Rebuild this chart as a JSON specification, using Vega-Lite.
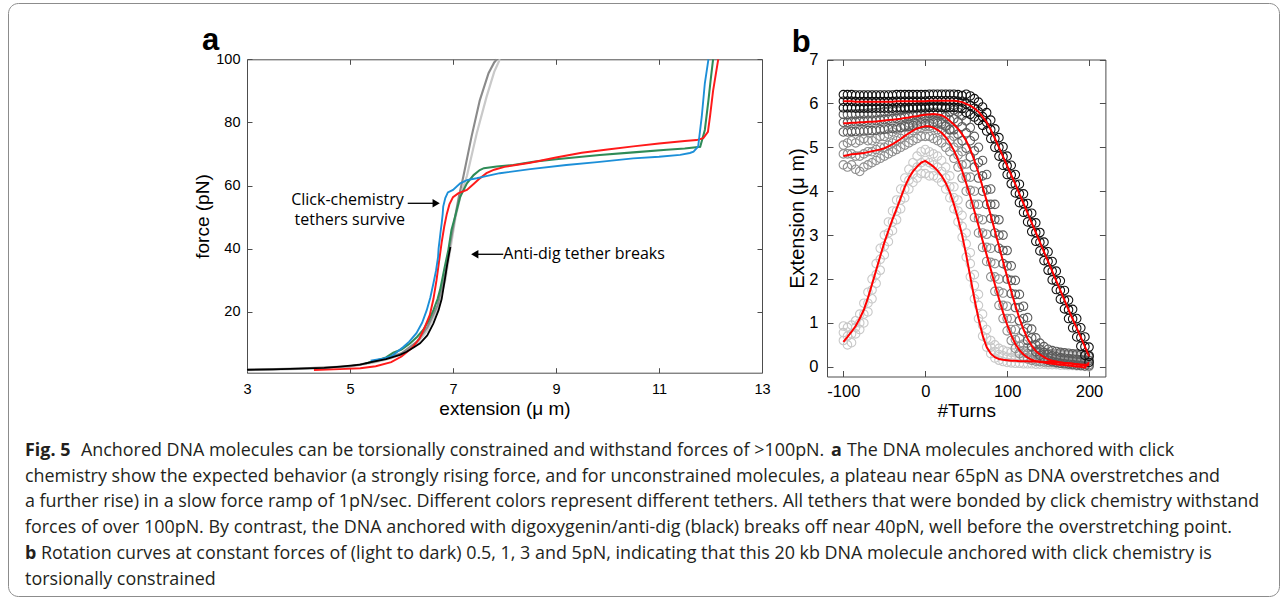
{
  "$schema": "https://vega.github.io/schema/vega-lite/v6.json",
  "width": 1282,
  "height": 599,
  "autosize": {"type": "fit", "contains": "padding"},
  "padding": {"left": 8, "top": 3, "right": 3, "bottom": 3},
  "config": {
    "view": {"stroke": "#8c8c8c", "strokeWidth": 1, "cornerRadius": 10},
    "axis": {"grid": false, "labelFont": "Liberation Sans", "titleFont": "Liberation Sans", "labelColor": "#000", "titleColor": "#000", "titleFontWeight": "normal", "domainColor": "#4d4d4d", "tickColor": "#4d4d4d", "labelFlush": false, "labelOverlap": false}
  },
  "datasets": {
    "tethers": [
      {"tether":"lightgray","ext":3,"force":1.5},{"tether":"lightgray","ext":3.5,"force":1.65},{"tether":"lightgray","ext":4,"force":1.85},{"tether":"lightgray","ext":4.5,"force":2.1},{"tether":"lightgray","ext":5,"force":2.6},{"tether":"lightgray","ext":5.5,"force":4.0},{"tether":"lightgray","ext":5.8,"force":5.3},{"tether":"lightgray","ext":6.0,"force":6.5},{"tether":"lightgray","ext":6.3,"force":10},{"tether":"lightgray","ext":6.5,"force":14},{"tether":"lightgray","ext":6.7,"force":21},{"tether":"lightgray","ext":6.85,"force":30},{"tether":"lightgray","ext":6.95,"force":40},{"tether":"lightgray","ext":7.05,"force":50},{"tether":"lightgray","ext":7.15,"force":57},{"tether":"lightgray","ext":7.27,"force":63},{"tether":"lightgray","ext":7.46,"force":76.5},{"tether":"lightgray","ext":7.65,"force":88},{"tether":"lightgray","ext":7.8,"force":96},{"tether":"lightgray","ext":7.91,"force":100},
      {"tether":"gray","ext":3,"force":1.6},{"tether":"gray","ext":4,"force":2.0},{"tether":"gray","ext":5,"force":2.7},{"tether":"gray","ext":5.5,"force":4.2},{"tether":"gray","ext":6.0,"force":6.8},{"tether":"gray","ext":6.3,"force":10.5},{"tether":"gray","ext":6.5,"force":15},{"tether":"gray","ext":6.7,"force":22},{"tether":"gray","ext":6.85,"force":32},{"tether":"gray","ext":6.95,"force":42},{"tether":"gray","ext":7.04,"force":50},{"tether":"gray","ext":7.12,"force":57},{"tether":"gray","ext":7.2,"force":62.8},{"tether":"gray","ext":7.36,"force":75.5},{"tether":"gray","ext":7.52,"force":87},{"tether":"gray","ext":7.69,"force":95.6},{"tether":"gray","ext":7.8,"force":99},{"tether":"gray","ext":7.85,"force":100},
      {"tether":"green","ext":5.3,"force":3.6},{"tether":"green","ext":5.5,"force":4.5},{"tether":"green","ext":5.7,"force":5.5},{"tether":"green","ext":5.84,"force":7.0},{"tether":"green","ext":6.0,"force":8.0},{"tether":"green","ext":6.17,"force":10},{"tether":"green","ext":6.3,"force":12},{"tether":"green","ext":6.42,"force":14.2},{"tether":"green","ext":6.52,"force":17},{"tether":"green","ext":6.62,"force":20.5},{"tether":"green","ext":6.7,"force":24},{"tether":"green","ext":6.75,"force":27},{"tether":"green","ext":6.8,"force":31},{"tether":"green","ext":6.84,"force":34.3},{"tether":"green","ext":6.91,"force":39.6},{"tether":"green","ext":6.97,"force":45.9},{"tether":"green","ext":7.04,"force":50.1},{"tether":"green","ext":7.14,"force":56.4},{"tether":"green","ext":7.27,"force":60.7},{"tether":"green","ext":7.4,"force":63.3},{"tether":"green","ext":7.52,"force":64.9},{"tether":"green","ext":7.6,"force":65.5},{"tether":"green","ext":7.85,"force":66},{"tether":"green","ext":8.17,"force":66.5},{"tether":"green","ext":8.56,"force":67.5},{"tether":"green","ext":9.0,"force":68.3},{"tether":"green","ext":9.85,"force":69.7},{"tether":"green","ext":10.5,"force":70.5},{"tether":"green","ext":11.15,"force":71.3},{"tether":"green","ext":11.5,"force":71.7},{"tether":"green","ext":11.8,"force":72.3},{"tether":"green","ext":11.89,"force":77.6},{"tether":"green","ext":11.96,"force":87},{"tether":"green","ext":12.0,"force":93},{"tether":"green","ext":12.05,"force":100},
      {"tether":"red","ext":4.3,"force":1.5},{"tether":"red","ext":4.8,"force":1.8},{"tether":"red","ext":5.2,"force":2.1},{"tether":"red","ext":5.5,"force":2.7},{"tether":"red","ext":5.8,"force":4.0},{"tether":"red","ext":6.0,"force":5.8},{"tether":"red","ext":6.2,"force":8.5},{"tether":"red","ext":6.35,"force":11.5},{"tether":"red","ext":6.45,"force":15},{"tether":"red","ext":6.55,"force":19},{"tether":"red","ext":6.62,"force":24},{"tether":"red","ext":6.68,"force":30},{"tether":"red","ext":6.73,"force":36},{"tether":"red","ext":6.78,"force":42},{"tether":"red","ext":6.83,"force":47},{"tether":"red","ext":6.88,"force":51},{"tether":"red","ext":6.93,"force":54},{"tether":"red","ext":7.0,"force":56.3},{"tether":"red","ext":7.1,"force":57.5},{"tether":"red","ext":7.27,"force":58.6},{"tether":"red","ext":7.4,"force":60.5},{"tether":"red","ext":7.5,"force":62},{"tether":"red","ext":7.65,"force":63.9},{"tether":"red","ext":7.8,"force":65},{"tether":"red","ext":8.0,"force":65.9},{"tether":"red","ext":8.5,"force":67.2},{"tether":"red","ext":9.0,"force":68.9},{"tether":"red","ext":9.5,"force":70.4},{"tether":"red","ext":10.0,"force":71.4},{"tether":"red","ext":10.5,"force":72.4},{"tether":"red","ext":11.0,"force":73.3},{"tether":"red","ext":11.5,"force":74.1},{"tether":"red","ext":11.73,"force":74.4},{"tether":"red","ext":11.86,"force":75},{"tether":"red","ext":11.95,"force":77},{"tether":"red","ext":11.99,"force":81.8},{"tether":"red","ext":12.05,"force":90},{"tether":"red","ext":12.1,"force":95},{"tether":"red","ext":12.15,"force":100},
      {"tether":"blue","ext":5.4,"force":4.5},{"tether":"blue","ext":5.6,"force":5.0},{"tether":"blue","ext":5.8,"force":5.8},{"tether":"blue","ext":6.04,"force":8.9},{"tether":"blue","ext":6.15,"force":10.5},{"tether":"blue","ext":6.29,"force":13.2},{"tether":"blue","ext":6.4,"force":16.5},{"tether":"blue","ext":6.49,"force":20.5},{"tether":"blue","ext":6.56,"force":24.5},{"tether":"blue","ext":6.62,"force":29},{"tether":"blue","ext":6.67,"force":33},{"tether":"blue","ext":6.71,"force":37.4},{"tether":"blue","ext":6.72,"force":40},{"tether":"blue","ext":6.74,"force":42.7},{"tether":"blue","ext":6.76,"force":45.5},{"tether":"blue","ext":6.78,"force":48},{"tether":"blue","ext":6.8,"force":51},{"tether":"blue","ext":6.81,"force":53.3},{"tether":"blue","ext":6.85,"force":56},{"tether":"blue","ext":6.9,"force":57.8},{"tether":"blue","ext":7.0,"force":58.6},{"tether":"blue","ext":7.14,"force":60.7},{"tether":"blue","ext":7.27,"force":61.7},{"tether":"blue","ext":7.46,"force":62.3},{"tether":"blue","ext":7.6,"force":62.8},{"tether":"blue","ext":7.91,"force":63.9},{"tether":"blue","ext":8.5,"force":65.2},{"tether":"blue","ext":9.2,"force":66.5},{"tether":"blue","ext":9.8,"force":67.4},{"tether":"blue","ext":10.5,"force":68.6},{"tether":"blue","ext":11.0,"force":69.1},{"tether":"blue","ext":11.41,"force":69.7},{"tether":"blue","ext":11.6,"force":70.3},{"tether":"blue","ext":11.67,"force":70.7},{"tether":"blue","ext":11.76,"force":72.3},{"tether":"blue","ext":11.83,"force":81.8},{"tether":"blue","ext":11.89,"force":92.4},{"tether":"blue","ext":11.96,"force":100},
      {"tether":"black","ext":3,"force":1.6},{"tether":"black","ext":3.5,"force":1.75},{"tether":"black","ext":4,"force":1.95},{"tether":"black","ext":4.5,"force":2.2},{"tether":"black","ext":4.81,"force":2.6},{"tether":"black","ext":5.2,"force":3.2},{"tether":"black","ext":5.45,"force":4.2},{"tether":"black","ext":5.7,"force":5.0},{"tether":"black","ext":5.97,"force":6.3},{"tether":"black","ext":6.1,"force":7.3},{"tether":"black","ext":6.25,"force":8.8},{"tether":"black","ext":6.36,"force":10},{"tether":"black","ext":6.5,"force":12.5},{"tether":"black","ext":6.62,"force":16.3},{"tether":"black","ext":6.72,"force":20.5},{"tether":"black","ext":6.78,"force":24},{"tether":"black","ext":6.84,"force":30},{"tether":"black","ext":6.88,"force":34.3},{"tether":"black","ext":6.92,"force":38},{"tether":"black","ext":6.95,"force":40.5}
    ],
    "notesA": [
      {"ext":4.951,"force":53.8,"label":"Click-chemistry","kind":"c"},
      {"ext":4.996,"force":47.5,"label":"tethers survive","kind":"c"},
      {"ext":7.976,"force":36.7,"label":"Anti-dig tether breaks","kind":"l"}
    ],
    "arrowsA": [
      {"x1":6.121,"x2":6.673,"force":54.36,"shape":"triangle-right"},
      {"x1":7.976,"x2":7.422,"force":38.2,"shape":"triangle-left"}
    ],
    "panelA": [{"ext":2.125,"force":102.95,"label":"a"}],
    "panelB": [{"turns":-163,"ext":7.18,"label":"b"}],
    "rotation": [
      {"F":"0.5","t":-100,"lo":0.6,"mid":0.78,"hi":0.93,"fit":0.57},{"F":"0.5","t":-95,"lo":0.5,"mid":0.7,"hi":0.9,"fit":0.68},{"F":"0.5","t":-90,"lo":0.55,"mid":0.75,"hi":0.95,"fit":0.8},{"F":"0.5","t":-85,"lo":0.75,"mid":0.9,"hi":1.05,"fit":0.93},{"F":"0.5","t":-80,"lo":0.85,"mid":1.0,"hi":1.2,"fit":1.1},{"F":"0.5","t":-75,"lo":1.0,"mid":1.2,"hi":1.45,"fit":1.3},{"F":"0.5","t":-70,"lo":1.25,"mid":1.45,"hi":1.7,"fit":1.57},{"F":"0.5","t":-65,"lo":1.55,"mid":1.75,"hi":2.0,"fit":1.88},{"F":"0.5","t":-60,"lo":1.9,"mid":2.1,"hi":2.35,"fit":2.2},{"F":"0.5","t":-55,"lo":2.2,"mid":2.45,"hi":2.7,"fit":2.52},{"F":"0.5","t":-50,"lo":2.55,"mid":2.75,"hi":3.0,"fit":2.83},{"F":"0.5","t":-45,"lo":2.85,"mid":3.05,"hi":3.3,"fit":3.1},{"F":"0.5","t":-40,"lo":3.1,"mid":3.3,"hi":3.55,"fit":3.36},{"F":"0.5","t":-35,"lo":3.35,"mid":3.55,"hi":3.8,"fit":3.6},{"F":"0.5","t":-30,"lo":3.6,"mid":3.8,"hi":4.05,"fit":3.85},{"F":"0.5","t":-25,"lo":3.85,"mid":4.05,"hi":4.3,"fit":4.1},{"F":"0.5","t":-20,"lo":4.05,"mid":4.25,"hi":4.5,"fit":4.3},{"F":"0.5","t":-15,"lo":4.2,"mid":4.4,"hi":4.65,"fit":4.45},{"F":"0.5","t":-10,"lo":4.3,"mid":4.55,"hi":4.8,"fit":4.56},{"F":"0.5","t":-5,"lo":4.4,"mid":4.65,"hi":4.9,"fit":4.65},{"F":"0.5","t":0,"lo":4.4,"mid":4.7,"hi":4.95,"fit":4.69},{"F":"0.5","t":5,"lo":4.35,"mid":4.65,"hi":4.9,"fit":4.63},{"F":"0.5","t":10,"lo":4.35,"mid":4.6,"hi":4.85,"fit":4.56},{"F":"0.5","t":15,"lo":4.3,"mid":4.55,"hi":4.8,"fit":4.47},{"F":"0.5","t":20,"lo":4.2,"mid":4.45,"hi":4.7,"fit":4.35},{"F":"0.5","t":25,"lo":4.05,"mid":4.3,"hi":4.55,"fit":4.19},{"F":"0.5","t":30,"lo":3.85,"mid":4.1,"hi":4.35,"fit":3.98},{"F":"0.5","t":35,"lo":3.6,"mid":3.85,"hi":4.1,"fit":3.7},{"F":"0.5","t":40,"lo":3.3,"mid":3.55,"hi":3.8,"fit":3.38},{"F":"0.5","t":45,"lo":2.95,"mid":3.2,"hi":3.45,"fit":3.0},{"F":"0.5","t":50,"lo":2.5,"mid":2.8,"hi":3.05,"fit":2.55},{"F":"0.5","t":55,"lo":2.05,"mid":2.35,"hi":2.6,"fit":2.05},{"F":"0.5","t":60,"lo":1.55,"mid":1.85,"hi":2.1,"fit":1.55},{"F":"0.5","t":65,"lo":1.1,"mid":1.4,"hi":1.65,"fit":1.1},{"F":"0.5","t":70,"lo":0.7,"mid":0.95,"hi":1.2,"fit":0.72},{"F":"0.5","t":75,"lo":0.45,"mid":0.65,"hi":0.85,"fit":0.45},{"F":"0.5","t":80,"lo":0.3,"mid":0.45,"hi":0.6,"fit":0.3},{"F":"0.5","t":85,"lo":0.2,"mid":0.35,"hi":0.5,"fit":0.22},{"F":"0.5","t":90,"lo":0.15,"mid":0.28,"hi":0.42,"fit":0.18},{"F":"0.5","t":95,"lo":0.12,"mid":0.25,"hi":0.38,"fit":0.16},{"F":"0.5","t":100,"lo":0.1,"mid":0.22,"hi":0.35,"fit":0.15},{"F":"0.5","t":105,"lo":0.09,"mid":0.21,"hi":0.33,"fit":0.14},{"F":"0.5","t":110,"lo":0.08,"mid":0.2,"hi":0.32,"fit":0.14},{"F":"0.5","t":115,"lo":0.08,"mid":0.19,"hi":0.31,"fit":0.13},{"F":"0.5","t":120,"lo":0.07,"mid":0.19,"hi":0.3,"fit":0.13},{"F":"0.5","t":125,"lo":0.07,"mid":0.18,"hi":0.3,"fit":0.13},{"F":"0.5","t":130,"lo":0.07,"mid":0.18,"hi":0.29,"fit":0.12},{"F":"0.5","t":135,"lo":0.06,"mid":0.17,"hi":0.29,"fit":0.12},{"F":"0.5","t":140,"lo":0.06,"mid":0.17,"hi":0.28,"fit":0.12},{"F":"0.5","t":145,"lo":0.06,"mid":0.16,"hi":0.28,"fit":0.11},{"F":"0.5","t":150,"lo":0.05,"mid":0.16,"hi":0.27,"fit":0.11},{"F":"0.5","t":155,"lo":0.05,"mid":0.15,"hi":0.27,"fit":0.11},{"F":"0.5","t":160,"lo":0.05,"mid":0.15,"hi":0.26,"fit":0.1},{"F":"0.5","t":165,"lo":0.04,"mid":0.14,"hi":0.26,"fit":0.1},{"F":"0.5","t":170,"lo":0.04,"mid":0.14,"hi":0.25,"fit":0.09},{"F":"0.5","t":175,"lo":0.03,"mid":0.13,"hi":0.25,"fit":0.08},{"F":"0.5","t":180,"lo":0.03,"mid":0.13,"hi":0.24,"fit":0.07},{"F":"0.5","t":185,"lo":0.02,"mid":0.12,"hi":0.23,"fit":0.06},{"F":"0.5","t":190,"lo":0.02,"mid":0.12,"hi":0.22,"fit":0.05},{"F":"0.5","t":195,"lo":0.01,"mid":0.11,"hi":0.21,"fit":0.05},{"F":"0.5","t":200,"lo":0.0,"mid":0.1,"hi":0.2,"fit":0.05},
      {"F":"1","t":-100,"lo":4.6,"mid":4.85,"hi":5.05,"fit":4.8},{"F":"1","t":-95,"lo":4.55,"mid":4.85,"hi":5.1,"fit":4.82},{"F":"1","t":-90,"lo":4.6,"mid":4.85,"hi":5.15,"fit":4.84},{"F":"1","t":-85,"lo":4.5,"mid":4.8,"hi":5.1,"fit":4.85},{"F":"1","t":-80,"lo":4.45,"mid":4.8,"hi":5.15,"fit":4.86},{"F":"1","t":-75,"lo":4.55,"mid":4.85,"hi":5.2,"fit":4.87},{"F":"1","t":-70,"lo":4.6,"mid":4.9,"hi":5.15,"fit":4.89},{"F":"1","t":-65,"lo":4.65,"mid":4.9,"hi":5.15,"fit":4.91},{"F":"1","t":-60,"lo":4.7,"mid":4.95,"hi":5.2,"fit":4.93},{"F":"1","t":-55,"lo":4.75,"mid":5.0,"hi":5.25,"fit":4.95},{"F":"1","t":-50,"lo":4.8,"mid":5.0,"hi":5.25,"fit":4.98},{"F":"1","t":-45,"lo":4.85,"mid":5.05,"hi":5.3,"fit":5.02},{"F":"1","t":-40,"lo":4.9,"mid":5.1,"hi":5.35,"fit":5.07},{"F":"1","t":-35,"lo":4.95,"mid":5.15,"hi":5.4,"fit":5.13},{"F":"1","t":-30,"lo":5.0,"mid":5.2,"hi":5.45,"fit":5.19},{"F":"1","t":-25,"lo":5.05,"mid":5.28,"hi":5.5,"fit":5.26},{"F":"1","t":-20,"lo":5.1,"mid":5.32,"hi":5.55,"fit":5.32},{"F":"1","t":-15,"lo":5.15,"mid":5.38,"hi":5.6,"fit":5.38},{"F":"1","t":-10,"lo":5.2,"mid":5.42,"hi":5.62,"fit":5.43},{"F":"1","t":-5,"lo":5.25,"mid":5.45,"hi":5.65,"fit":5.46},{"F":"1","t":0,"lo":5.25,"mid":5.48,"hi":5.68,"fit":5.48},{"F":"1","t":5,"lo":5.25,"mid":5.48,"hi":5.68,"fit":5.48},{"F":"1","t":10,"lo":5.2,"mid":5.45,"hi":5.65,"fit":5.45},{"F":"1","t":15,"lo":5.15,"mid":5.4,"hi":5.62,"fit":5.4},{"F":"1","t":20,"lo":5.1,"mid":5.35,"hi":5.58,"fit":5.33},{"F":"1","t":25,"lo":5.0,"mid":5.27,"hi":5.5,"fit":5.23},{"F":"1","t":30,"lo":4.9,"mid":5.15,"hi":5.4,"fit":5.1},{"F":"1","t":35,"lo":4.75,"mid":5.0,"hi":5.25,"fit":4.93},{"F":"1","t":40,"lo":4.55,"mid":4.82,"hi":5.1,"fit":4.72},{"F":"1","t":45,"lo":4.3,"mid":4.6,"hi":4.9,"fit":4.47},{"F":"1","t":50,"lo":4.0,"mid":4.32,"hi":4.62,"fit":4.18},{"F":"1","t":55,"lo":3.7,"mid":4.02,"hi":4.32,"fit":3.88},{"F":"1","t":60,"lo":3.4,"mid":3.7,"hi":4.0,"fit":3.55},{"F":"1","t":65,"lo":3.05,"mid":3.38,"hi":3.7,"fit":3.22},{"F":"1","t":70,"lo":2.72,"mid":3.05,"hi":3.35,"fit":2.88},{"F":"1","t":75,"lo":2.4,"mid":2.72,"hi":3.02,"fit":2.55},{"F":"1","t":80,"lo":2.05,"mid":2.38,"hi":2.7,"fit":2.22},{"F":"1","t":85,"lo":1.72,"mid":2.05,"hi":2.35,"fit":1.88},{"F":"1","t":90,"lo":1.4,"mid":1.72,"hi":2.0,"fit":1.55},{"F":"1","t":95,"lo":1.1,"mid":1.4,"hi":1.68,"fit":1.24},{"F":"1","t":100,"lo":0.82,"mid":1.1,"hi":1.38,"fit":0.96},{"F":"1","t":105,"lo":0.6,"mid":0.85,"hi":1.1,"fit":0.72},{"F":"1","t":110,"lo":0.42,"mid":0.62,"hi":0.85,"fit":0.52},{"F":"1","t":115,"lo":0.3,"mid":0.47,"hi":0.65,"fit":0.38},{"F":"1","t":120,"lo":0.22,"mid":0.37,"hi":0.52,"fit":0.28},{"F":"1","t":125,"lo":0.18,"mid":0.3,"hi":0.44,"fit":0.21},{"F":"1","t":130,"lo":0.15,"mid":0.26,"hi":0.38,"fit":0.16},{"F":"1","t":135,"lo":0.13,"mid":0.24,"hi":0.35,"fit":0.13},{"F":"1","t":140,"lo":0.12,"mid":0.22,"hi":0.33,"fit":0.11},{"F":"1","t":145,"lo":0.11,"mid":0.21,"hi":0.32,"fit":0.1},{"F":"1","t":150,"lo":0.1,"mid":0.2,"hi":0.31,"fit":0.08},{"F":"1","t":155,"lo":0.1,"mid":0.2,"hi":0.3,"fit":0.07},{"F":"1","t":160,"lo":0.09,"mid":0.19,"hi":0.3,"fit":0.06},{"F":"1","t":165,"lo":0.09,"mid":0.19,"hi":0.29,"fit":0.05},{"F":"1","t":170,"lo":0.08,"mid":0.18,"hi":0.29,"fit":0.04},{"F":"1","t":175,"lo":0.08,"mid":0.18,"hi":0.28,"fit":0.03},{"F":"1","t":180,"lo":0.07,"mid":0.17,"hi":0.28,"fit":0.02},{"F":"1","t":185,"lo":0.07,"mid":0.17,"hi":0.27,"fit":0.01},{"F":"1","t":190,"lo":0.06,"mid":0.16,"hi":0.27,"fit":0.0},{"F":"1","t":195,"lo":0.06,"mid":0.16,"hi":0.26,"fit":-0.02},{"F":"1","t":200,"lo":0.05,"mid":0.15,"hi":0.26,"fit":0.1},
      {"F":"3","t":-100,"lo":5.35,"mid":5.57,"hi":5.75,"fit":5.55},{"F":"3","t":-95,"lo":5.35,"mid":5.57,"hi":5.75,"fit":5.55},{"F":"3","t":-90,"lo":5.36,"mid":5.58,"hi":5.76,"fit":5.56},{"F":"3","t":-85,"lo":5.36,"mid":5.58,"hi":5.76,"fit":5.56},{"F":"3","t":-80,"lo":5.37,"mid":5.59,"hi":5.77,"fit":5.57},{"F":"3","t":-75,"lo":5.37,"mid":5.59,"hi":5.77,"fit":5.57},{"F":"3","t":-70,"lo":5.38,"mid":5.6,"hi":5.78,"fit":5.58},{"F":"3","t":-65,"lo":5.38,"mid":5.6,"hi":5.78,"fit":5.58},{"F":"3","t":-60,"lo":5.39,"mid":5.61,"hi":5.79,"fit":5.59},{"F":"3","t":-55,"lo":5.4,"mid":5.62,"hi":5.8,"fit":5.6},{"F":"3","t":-50,"lo":5.41,"mid":5.63,"hi":5.81,"fit":5.61},{"F":"3","t":-45,"lo":5.42,"mid":5.64,"hi":5.82,"fit":5.62},{"F":"3","t":-40,"lo":5.43,"mid":5.65,"hi":5.83,"fit":5.63},{"F":"3","t":-35,"lo":5.44,"mid":5.66,"hi":5.84,"fit":5.64},{"F":"3","t":-30,"lo":5.45,"mid":5.67,"hi":5.85,"fit":5.65},{"F":"3","t":-25,"lo":5.47,"mid":5.69,"hi":5.87,"fit":5.67},{"F":"3","t":-20,"lo":5.48,"mid":5.7,"hi":5.88,"fit":5.68},{"F":"3","t":-15,"lo":5.5,"mid":5.72,"hi":5.9,"fit":5.7},{"F":"3","t":-10,"lo":5.51,"mid":5.73,"hi":5.91,"fit":5.71},{"F":"3","t":-5,"lo":5.53,"mid":5.75,"hi":5.93,"fit":5.73},{"F":"3","t":0,"lo":5.54,"mid":5.76,"hi":5.94,"fit":5.74},{"F":"3","t":5,"lo":5.55,"mid":5.77,"hi":5.95,"fit":5.75},{"F":"3","t":10,"lo":5.56,"mid":5.78,"hi":5.96,"fit":5.76},{"F":"3","t":15,"lo":5.55,"mid":5.77,"hi":5.95,"fit":5.75},{"F":"3","t":20,"lo":5.53,"mid":5.75,"hi":5.93,"fit":5.73},{"F":"3","t":25,"lo":5.48,"mid":5.7,"hi":5.88,"fit":5.68},{"F":"3","t":30,"lo":5.4,"mid":5.62,"hi":5.8,"fit":5.6},{"F":"3","t":35,"lo":5.4,"mid":5.65,"hi":5.85,"fit":5.52},{"F":"3","t":40,"lo":5.3,"mid":5.58,"hi":5.8,"fit":5.42},{"F":"3","t":45,"lo":5.15,"mid":5.47,"hi":5.72,"fit":5.3},{"F":"3","t":50,"lo":4.98,"mid":5.33,"hi":5.6,"fit":5.15},{"F":"3","t":55,"lo":4.78,"mid":5.15,"hi":5.45,"fit":4.95},{"F":"3","t":60,"lo":4.55,"mid":4.92,"hi":5.25,"fit":4.7},{"F":"3","t":65,"lo":4.3,"mid":4.65,"hi":5.0,"fit":4.42},{"F":"3","t":70,"lo":4.0,"mid":4.35,"hi":4.7,"fit":4.1},{"F":"3","t":75,"lo":3.7,"mid":4.03,"hi":4.38,"fit":3.78},{"F":"3","t":80,"lo":3.38,"mid":3.7,"hi":4.05,"fit":3.45},{"F":"3","t":85,"lo":3.05,"mid":3.36,"hi":3.7,"fit":3.1},{"F":"3","t":90,"lo":2.7,"mid":3.0,"hi":3.35,"fit":2.75},{"F":"3","t":95,"lo":2.35,"mid":2.65,"hi":3.0,"fit":2.4},{"F":"3","t":100,"lo":2.0,"mid":2.3,"hi":2.65,"fit":2.05},{"F":"3","t":105,"lo":1.67,"mid":1.97,"hi":2.3,"fit":1.72},{"F":"3","t":110,"lo":1.35,"mid":1.65,"hi":1.97,"fit":1.4},{"F":"3","t":115,"lo":1.05,"mid":1.35,"hi":1.65,"fit":1.1},{"F":"3","t":120,"lo":0.8,"mid":1.1,"hi":1.38,"fit":0.85},{"F":"3","t":125,"lo":0.6,"mid":0.88,"hi":1.12,"fit":0.64},{"F":"3","t":130,"lo":0.46,"mid":0.66,"hi":0.86,"fit":0.48},{"F":"3","t":135,"lo":0.34,"mid":0.5,"hi":0.66,"fit":0.36},{"F":"3","t":140,"lo":0.26,"mid":0.4,"hi":0.54,"fit":0.28},{"F":"3","t":145,"lo":0.2,"mid":0.33,"hi":0.46,"fit":0.22},{"F":"3","t":150,"lo":0.15,"mid":0.28,"hi":0.4,"fit":0.17},{"F":"3","t":155,"lo":0.12,"mid":0.25,"hi":0.37,"fit":0.14},{"F":"3","t":160,"lo":0.1,"mid":0.23,"hi":0.35,"fit":0.12},{"F":"3","t":165,"lo":0.08,"mid":0.21,"hi":0.33,"fit":0.1},{"F":"3","t":170,"lo":0.07,"mid":0.2,"hi":0.32,"fit":0.09},{"F":"3","t":175,"lo":0.06,"mid":0.19,"hi":0.31,"fit":0.08},{"F":"3","t":180,"lo":0.05,"mid":0.18,"hi":0.3,"fit":0.07},{"F":"3","t":185,"lo":0.04,"mid":0.17,"hi":0.29,"fit":0.06},{"F":"3","t":190,"lo":0.03,"mid":0.16,"hi":0.28,"fit":0.05},{"F":"3","t":195,"lo":0.02,"mid":0.15,"hi":0.27,"fit":0.04},{"F":"3","t":200,"lo":0.02,"mid":0.14,"hi":0.26,"fit":0.04},
      {"F":"5","t":-100,"lo":5.9,"mid":6.05,"hi":6.2,"fit":6.05},{"F":"5","t":-95,"lo":5.9,"mid":6.05,"hi":6.2,"fit":6.05},{"F":"5","t":-90,"lo":5.9,"mid":6.05,"hi":6.2,"fit":6.05},{"F":"5","t":-85,"lo":5.89,"mid":6.04,"hi":6.19,"fit":6.04},{"F":"5","t":-80,"lo":5.89,"mid":6.04,"hi":6.19,"fit":6.04},{"F":"5","t":-75,"lo":5.89,"mid":6.04,"hi":6.19,"fit":6.04},{"F":"5","t":-70,"lo":5.89,"mid":6.04,"hi":6.19,"fit":6.04},{"F":"5","t":-65,"lo":5.89,"mid":6.04,"hi":6.19,"fit":6.04},{"F":"5","t":-60,"lo":5.89,"mid":6.04,"hi":6.19,"fit":6.04},{"F":"5","t":-55,"lo":5.89,"mid":6.04,"hi":6.19,"fit":6.04},{"F":"5","t":-50,"lo":5.89,"mid":6.04,"hi":6.19,"fit":6.04},{"F":"5","t":-45,"lo":5.89,"mid":6.04,"hi":6.19,"fit":6.04},{"F":"5","t":-40,"lo":5.89,"mid":6.04,"hi":6.19,"fit":6.04},{"F":"5","t":-35,"lo":5.9,"mid":6.05,"hi":6.2,"fit":6.05},{"F":"5","t":-30,"lo":5.9,"mid":6.05,"hi":6.2,"fit":6.05},{"F":"5","t":-25,"lo":5.9,"mid":6.05,"hi":6.2,"fit":6.05},{"F":"5","t":-20,"lo":5.9,"mid":6.05,"hi":6.2,"fit":6.05},{"F":"5","t":-15,"lo":5.9,"mid":6.05,"hi":6.2,"fit":6.05},{"F":"5","t":-10,"lo":5.9,"mid":6.05,"hi":6.2,"fit":6.05},{"F":"5","t":-5,"lo":5.9,"mid":6.05,"hi":6.2,"fit":6.05},{"F":"5","t":0,"lo":5.9,"mid":6.05,"hi":6.2,"fit":6.05},{"F":"5","t":5,"lo":5.91,"mid":6.06,"hi":6.21,"fit":6.06},{"F":"5","t":10,"lo":5.91,"mid":6.06,"hi":6.21,"fit":6.06},{"F":"5","t":15,"lo":5.91,"mid":6.06,"hi":6.21,"fit":6.06},{"F":"5","t":20,"lo":5.91,"mid":6.06,"hi":6.21,"fit":6.06},{"F":"5","t":25,"lo":5.91,"mid":6.06,"hi":6.21,"fit":6.06},{"F":"5","t":30,"lo":5.91,"mid":6.06,"hi":6.21,"fit":6.06},{"F":"5","t":35,"lo":5.91,"mid":6.06,"hi":6.21,"fit":6.06},{"F":"5","t":40,"lo":5.9,"mid":6.05,"hi":6.2,"fit":6.05},{"F":"5","t":45,"lo":5.88,"mid":6.03,"hi":6.18,"fit":6.03},{"F":"5","t":50,"lo":5.79,"mid":5.99,"hi":6.21,"fit":5.99},{"F":"5","t":55,"lo":5.75,"mid":5.95,"hi":6.17,"fit":5.95},{"F":"5","t":60,"lo":5.69,"mid":5.89,"hi":6.11,"fit":5.89},{"F":"5","t":65,"lo":5.61,"mid":5.81,"hi":6.03,"fit":5.81},{"F":"5","t":70,"lo":5.5,"mid":5.7,"hi":5.92,"fit":5.7},{"F":"5","t":75,"lo":5.37,"mid":5.57,"hi":5.79,"fit":5.57},{"F":"5","t":80,"lo":5.2,"mid":5.4,"hi":5.62,"fit":5.4},{"F":"5","t":85,"lo":5.0,"mid":5.2,"hi":5.42,"fit":5.2},{"F":"5","t":90,"lo":4.8,"mid":5.0,"hi":5.22,"fit":5.0},{"F":"5","t":95,"lo":4.59,"mid":4.79,"hi":5.01,"fit":4.79},{"F":"5","t":100,"lo":4.38,"mid":4.58,"hi":4.8,"fit":4.58},{"F":"5","t":105,"lo":4.17,"mid":4.37,"hi":4.59,"fit":4.37},{"F":"5","t":110,"lo":3.96,"mid":4.16,"hi":4.38,"fit":4.16},{"F":"5","t":115,"lo":3.74,"mid":3.94,"hi":4.16,"fit":3.94},{"F":"5","t":120,"lo":3.52,"mid":3.72,"hi":3.94,"fit":3.72},{"F":"5","t":125,"lo":3.3,"mid":3.5,"hi":3.72,"fit":3.5},{"F":"5","t":130,"lo":3.08,"mid":3.28,"hi":3.5,"fit":3.28},{"F":"5","t":135,"lo":2.86,"mid":3.06,"hi":3.28,"fit":3.06},{"F":"5","t":140,"lo":2.64,"mid":2.84,"hi":3.06,"fit":2.84},{"F":"5","t":145,"lo":2.42,"mid":2.62,"hi":2.84,"fit":2.62},{"F":"5","t":150,"lo":2.2,"mid":2.4,"hi":2.62,"fit":2.4},{"F":"5","t":155,"lo":1.98,"mid":2.18,"hi":2.4,"fit":2.18},{"F":"5","t":160,"lo":1.76,"mid":1.96,"hi":2.18,"fit":1.96},{"F":"5","t":165,"lo":1.54,"mid":1.74,"hi":1.96,"fit":1.74},{"F":"5","t":170,"lo":1.32,"mid":1.52,"hi":1.74,"fit":1.52},{"F":"5","t":175,"lo":1.1,"mid":1.3,"hi":1.52,"fit":1.3},{"F":"5","t":180,"lo":0.89,"mid":1.09,"hi":1.31,"fit":1.09},{"F":"5","t":185,"lo":0.68,"mid":0.88,"hi":1.1,"fit":0.88},{"F":"5","t":190,"lo":0.47,"mid":0.67,"hi":0.89,"fit":0.67},{"F":"5","t":195,"lo":0.26,"mid":0.46,"hi":0.68,"fit":0.46},{"F":"5","t":200,"lo":0.1,"mid":0.24,"hi":0.45,"fit":0.24}
    ],
    "caption": [
      {"line":1,"part":"fig","text":"Fig. 5"},
      {"line":1,"part":"l1a","text":"Anchored DNA molecules can be torsionally constrained and withstand forces of >100pN."},
      {"line":1,"part":"pa","text":"a"},
      {"line":1,"part":"l1b","text":"The DNA molecules anchored with click"},
      {"line":2,"part":"body","text":"chemistry show the expected behavior (a strongly rising force, and for unconstrained molecules, a plateau near 65pN as DNA overstretches and"},
      {"line":3,"part":"body","text":"a further rise) in a slow force ramp of 1pN/sec. Different colors represent different tethers. All tethers that were bonded by click chemistry withstand"},
      {"line":4,"part":"body","text":"forces of over 100pN. By contrast, the DNA anchored with digoxygenin/anti-dig (black) breaks off near 40pN, well before the overstretching point."},
      {"line":5,"part":"pb","text":"b"},
      {"line":5,"part":"l5","text":"Rotation curves at constant forces of (light to dark) 0.5, 1, 3 and 5pN, indicating that this 20 kb DNA molecule anchored with click chemistry is"},
      {"line":6,"part":"body","text":"torsionally constrained"}
    ]
  },
  "layer": [
    {
      "layer": [
        {
          "data": {"name": "tethers"},
          "mark": {"type": "line"},
          "encoding": {
            "x": {"field": "ext", "type": "quantitative", "scale": {"domain": [3, 13], "range": [239, 754], "nice": false, "zero": false},
                  "axis": {"orient": "bottom", "offset": -223.3, "values": [3,5,7,9,11,13], "tickSize": -5, "labelPadding": 15, "labelFontSize": 14.5, "title": "extension (μ m)", "titleFontSize": 19, "titlePadding": 3}},
            "y": {"field": "force", "type": "quantitative", "scale": {"domain": [0.67, 100], "range": [369.7, 56.3], "nice": false, "zero": false},
                  "axis": {"orient": "left", "offset": -239, "values": [20,40,60,80,100], "tickSize": -5, "labelPadding": 12, "labelFontSize": 14.5, "title": "force (pN)", "titleFontSize": 19, "titlePadding": 3}},
            "color": {"field": "tether", "type": "nominal", "scale": {"domain": ["lightgray","gray","green","red","blue","black"], "range": ["#c9c9c9","#8a8a8a","#2e8b57","#ff1a1a","#1c8fd8","#000000"]}, "legend": null},
            "strokeWidth": {"field": "tether", "type": "nominal", "scale": {"domain": ["lightgray","gray","green","red","blue","black"], "range": [2.2,1.8,1.8,1.8,1.8,3.2]}, "legend": null}
          }
        },
        {
          "data": {"name": "notesA"},
          "transform": [{"filter": "datum.kind === 'c'"}],
          "mark": {"type": "text", "font": "Open Sans", "fontSize": 16, "align": "center", "baseline": "alphabetic", "color": "#000"},
          "encoding": {
            "x": {"field": "ext", "type": "quantitative", "scale": {"domain": [3, 13], "range": [239, 754], "nice": false, "zero": false},
                  "axis": {"orient": "top", "offset": -56.3, "values": [3,5,7,9,11,13], "tickSize": -5, "labels": false, "title": null}},
            "y": {"field": "force", "type": "quantitative", "scale": {"domain": [0.67, 100], "range": [369.7, 56.3], "nice": false, "zero": false},
                  "axis": {"orient": "right", "offset": -517, "values": [20,40,60,80,100], "tickSize": -5, "labels": false, "title": null}},
            "text": {"field": "label"}
          }
        },
        {
          "data": {"name": "notesA"},
          "transform": [{"filter": "datum.kind === 'l'"}],
          "mark": {"type": "text", "font": "Open Sans", "fontSize": 16, "align": "left", "baseline": "alphabetic", "color": "#000"},
          "encoding": {
            "x": {"field": "ext", "type": "quantitative", "scale": {"domain": [3, 13], "range": [239, 754], "nice": false, "zero": false}, "axis": null},
            "y": {"field": "force", "type": "quantitative", "scale": {"domain": [0.67, 100], "range": [369.7, 56.3], "nice": false, "zero": false}, "axis": null},
            "text": {"field": "label"}
          }
        },
        {
          "data": {"name": "arrowsA"},
          "mark": {"type": "rule", "color": "#000", "strokeWidth": 1.3},
          "encoding": {
            "x": {"field": "x1", "type": "quantitative", "scale": {"domain": [3, 13], "range": [239, 754], "nice": false, "zero": false}, "axis": null},
            "x2": {"field": "x2"},
            "y": {"field": "force", "type": "quantitative", "scale": {"domain": [0.67, 100], "range": [369.7, 56.3], "nice": false, "zero": false}, "axis": null}
          }
        },
        {
          "data": {"name": "arrowsA"},
          "mark": {"type": "point", "filled": true, "color": "#000", "size": 70, "opacity": 1, "strokeWidth": 0},
          "encoding": {
            "x": {"field": "x2", "type": "quantitative", "scale": {"domain": [3, 13], "range": [239, 754], "nice": false, "zero": false}, "axis": null},
            "y": {"field": "force", "type": "quantitative", "scale": {"domain": [0.67, 100], "range": [369.7, 56.3], "nice": false, "zero": false}, "axis": null},
            "shape": {"field": "shape", "type": "nominal", "scale": null}
          }
        },
        {
          "data": {"name": "panelA"},
          "mark": {"type": "text", "font": "Liberation Sans", "fontWeight": "bold", "fontSize": 31, "align": "left", "baseline": "alphabetic", "color": "#000"},
          "encoding": {
            "x": {"field": "ext", "type": "quantitative", "scale": {"domain": [3, 13], "range": [239, 754], "nice": false, "zero": false}, "axis": null},
            "y": {"field": "force", "type": "quantitative", "scale": {"domain": [0.67, 100], "range": [369.7, 56.3], "nice": false, "zero": false}, "axis": null},
            "text": {"field": "label"}
          }
        }
      ],
      "resolve": {"axis": {"x": "independent", "y": "independent"}}
    },
    {
      "layer": [
        {
          "data": {"name": "rotation"},
          "transform": [{"fold": ["lo", "mid", "hi"], "as": ["band", "value"]}],
          "mark": {"type": "point", "filled": false, "size": 72, "strokeWidth": 1.1, "opacity": 1},
          "encoding": {
            "x": {"field": "t", "type": "quantitative", "scale": {"domain": [-120, 220], "range": [819, 1097.4], "nice": false, "zero": false},
                  "axis": {"orient": "bottom", "offset": -219.5, "values": [-100,0,100,200], "tickSize": -6, "labelPadding": 12.5, "labelFontSize": 16.5, "title": "#Turns", "titleFontSize": 19, "titlePadding": 2, "labelExpr": "'' + datum.value"}},
            "y": {"field": "value", "type": "quantitative", "scale": {"domain": [-0.22, 7], "range": [373.5, 56.5], "nice": false, "zero": false},
                  "axis": {"orient": "left", "offset": -819, "values": [0,1,2,3,4,5,6,7], "tickSize": -6, "labelPadding": 15, "labelFontSize": 16.5, "title": "Extension (μ m)", "titleFontSize": 20, "titlePadding": 1}},
            "color": {"field": "F", "type": "nominal", "scale": {"domain": ["0.5","1","3","5"], "range": ["#c8c8c8","#8e8e8e","#5c5c5c","#111111"]}, "legend": null}
          }
        },
        {
          "data": {"name": "rotation"},
          "mark": {"type": "line", "color": "#ff0000", "strokeWidth": 2},
          "encoding": {
            "x": {"field": "t", "type": "quantitative", "scale": {"domain": [-120, 220], "range": [819, 1097.4], "nice": false, "zero": false},
                  "axis": {"orient": "top", "offset": -56.5, "values": [-100,0,100,200], "tickSize": -6, "labels": false, "title": null}},
            "y": {"field": "fit", "type": "quantitative", "scale": {"domain": [-0.22, 7], "range": [373.5, 56.5], "nice": false, "zero": false},
                  "axis": {"orient": "right", "offset": -173.6, "values": [0,1,2,3,4,5,6,7], "tickSize": -6, "labels": false, "title": null}},
            "detail": {"field": "F", "type": "nominal"}
          }
        },
        {
          "data": {"name": "panelB"},
          "mark": {"type": "text", "font": "Liberation Sans", "fontWeight": "bold", "fontSize": 31, "align": "left", "baseline": "alphabetic", "color": "#000"},
          "encoding": {
            "x": {"field": "turns", "type": "quantitative", "scale": {"domain": [-120, 220], "range": [819, 1097.4], "nice": false, "zero": false}, "axis": null},
            "y": {"field": "ext", "type": "quantitative", "scale": {"domain": [-0.22, 7], "range": [373.5, 56.5], "nice": false, "zero": false}, "axis": null},
            "text": {"field": "label"}
          }
        }
      ],
      "resolve": {"axis": {"x": "independent", "y": "independent"}}
    },
    {
      "data": {"name": "caption"},
      "encoding": {
        "x": {"datum": 0, "type": "quantitative", "scale": {"domain": [0, 1], "range": [17, 18]}, "axis": null},
        "y": {"field": "line", "type": "quantitative", "scale": {"domain": [1, 6], "range": [453, 581.5]}, "axis": null},
        "text": {"field": "text"}
      },
      "layer": [
        {"transform": [{"filter": "datum.part === 'body'"}], "mark": {"type": "text", "font": "Open Sans", "fontSize": 17.9, "align": "left", "baseline": "alphabetic", "color": "#231f20"}},
        {"transform": [{"filter": "datum.part === 'fig' || datum.part === 'pb'"}], "mark": {"type": "text", "font": "Open Sans", "fontWeight": "bold", "fontSize": 17.9, "align": "left", "baseline": "alphabetic", "color": "#231f20"}},
        {"transform": [{"filter": "datum.part === 'l1a'"}], "mark": {"type": "text", "font": "Open Sans", "fontSize": 17.9, "align": "left", "baseline": "alphabetic", "color": "#231f20", "dx": 56}},
        {"transform": [{"filter": "datum.part === 'pa'"}], "mark": {"type": "text", "font": "Open Sans", "fontWeight": "bold", "fontSize": 17.9, "align": "left", "baseline": "alphabetic", "color": "#231f20", "dx": 806}},
        {"transform": [{"filter": "datum.part === 'l1b'"}], "mark": {"type": "text", "font": "Open Sans", "fontSize": 17.9, "align": "left", "baseline": "alphabetic", "color": "#231f20", "dx": 822}},
        {"transform": [{"filter": "datum.part === 'l5'"}], "mark": {"type": "text", "font": "Open Sans", "fontSize": 17.9, "align": "left", "baseline": "alphabetic", "color": "#231f20", "dx": 16}}
      ]
    }
  ],
  "resolve": {"scale": {"x": "independent", "y": "independent", "color": "independent", "strokeWidth": "independent", "shape": "independent"}}
}
